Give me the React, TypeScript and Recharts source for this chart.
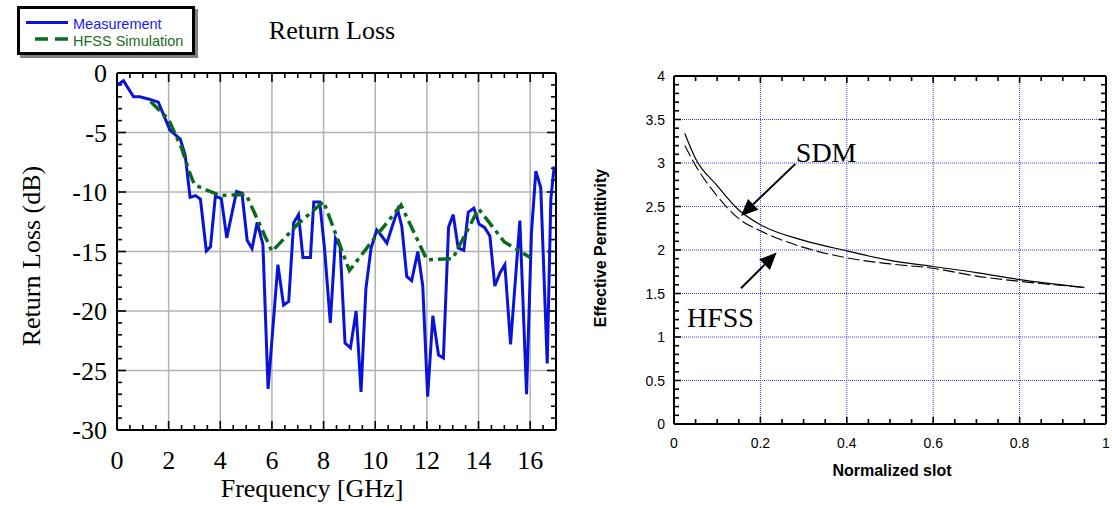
import React from "react";
import {
  LineChart,
  Line,
  XAxis,
  YAxis,
  CartesianGrid,
  ReferenceLine,
  ReferenceDot,
} from "recharts";

const SERIF = '"Liberation Serif", "Times New Roman", serif';
const SANS = '"Liberation Sans", Arial, sans-serif';

// left panel: return loss vs frequency
const measFreq = [
  0.02, 0.25, 0.64, 0.88, 1.25, 1.6, 2.05, 2.45, 2.64, 2.83, 3.04, 3.23, 3.46, 3.62, 3.81, 4.04,
  4.25, 4.63, 4.84, 5.04, 5.23, 5.43, 5.65, 5.85, 6.23, 6.45, 6.65, 6.84, 7.03, 7.2, 7.49, 7.62,
  7.85, 8.04, 8.26, 8.46, 8.64, 8.83, 9.04, 9.26, 9.45, 9.64, 9.84, 10.06, 10.25, 10.45, 10.64,
  10.87, 11.03, 11.22, 11.41, 11.65, 11.84, 12.03, 12.23, 12.45, 12.64, 12.84, 13.02, 13.21,
  13.43, 13.6, 13.82, 14.02, 14.24, 14.44, 14.63, 14.83, 15.02, 15.24, 15.6, 15.86, 16.05,
  16.22, 16.41, 16.66, 16.8, 16.93,
];
const measRL = [
  -1.0, -0.65, -2.0, -2.0, -2.2, -2.45, -4.8, -5.55, -6.9, -10.45, -10.3, -10.6, -14.95, -14.6,
  -10.35, -10.55, -13.85, -9.95, -10.1, -14.05, -14.75, -12.55, -14.4, -26.55, -16.1, -19.5,
  -19.2, -12.6, -11.9, -15.5, -15.5, -10.85, -10.85, -14.85, -21.0, -13.9, -14.6, -22.7, -23.1,
  -20.0, -26.8, -18.1, -14.7, -13.2, -13.7, -14.3, -13.0, -11.5, -12.9, -17.1, -17.45, -15.0,
  -17.9, -27.2, -20.4, -23.7, -23.95, -12.95, -11.9, -14.7, -14.9, -11.7, -11.35, -12.7, -13.0,
  -13.7, -17.9, -16.8, -16.1, -22.8, -12.4, -27.0, -13.4, -8.25, -9.65, -24.4, -10.6, -7.85,
];
const simFreq = [1.3, 2.0, 2.5, 2.8, 3.0, 4.0, 5.0, 6.0, 7.0, 8.0, 9.0, 10.0, 11.0, 12.0, 13.0, 14.0, 15.0, 16.0];
const simRL = [-2.4, -3.9, -6.3, -8.3, -9.4, -10.3, -10.2, -15.0, -12.7, -10.8, -16.6, -13.8, -11.1, -15.7, -15.6, -11.4, -14.2, -15.5];

const freqTicks = [0, 2, 4, 6, 8, 10, 12, 14, 16];
const rlTicks = [-30, -25, -20, -15, -10, -5, 0];

// right panel: effective permittivity vs normalized slot
const slot = [0.025, 0.05, 0.1, 0.15, 0.2, 0.3, 0.4, 0.5, 0.6, 0.7, 0.8, 0.95];
const sdmEps = [3.34, 3.05, 2.74, 2.46, 2.29, 2.11, 1.99, 1.88, 1.81, 1.74, 1.66, 1.57];
const hfssEps = [3.2, 2.97, 2.62, 2.36, 2.22, 2.03, 1.91, 1.84, 1.79, 1.7, 1.64, 1.57];

const slotTicks = [0, 0.2, 0.4, 0.6, 0.8, 1];
const epsTicks = [0, 0.5, 1, 1.5, 2, 2.5, 3, 3.5, 4];

// annotations [x, y] and arrows [x1, y1, x2, y2] in data units
const sdmLabelAt = [0.282, 3.01];
const sdmArrow = [0.281, 2.99, 0.155, 2.39];
const hfssLabelAt = [0.03, 1.115];
const hfssArrow = [0.155, 1.56, 0.2375, 1.97];

const measData = measFreq.map((f, i) => ({ f, rl: measRL[i] }));
const simData = simFreq.map((f, i) => ({ f, rl: simRL[i] }));
const epsData = slot.map((s, i) => ({ s, sdm: sdmEps[i], hfss: hfssEps[i] }));

const steps = (from: number, to: number, step: number) => {
  const n = Math.round((to - from) / step);
  return Array.from({ length: n + 1 }, (_, i) => +(from + i * step).toFixed(4));
};
const onGrid = (step: number) => (v: number) => Math.abs(v / step - Math.round(v / step)) < 1e-6;

type Side = "bottom" | "left" | "none";
interface LabelOpt {
  font: string;
  size: number;
  dx: number;
  dy: number;
}

// axis labels only; the tick marks are drawn by the reference lines below
function tickLabel(side: Side, isMajor: (v: number) => boolean, label?: LabelOpt) {
  return (p: any) => {
    const v = p.payload.value;
    if (!label || !isMajor(v)) return <g />;
    return (
      <text
        x={Number(p.x) + label.dx}
        y={Number(p.y) + label.dy}
        textAnchor={side === "left" ? "end" : "middle"}
        fontFamily={label.font}
        fontSize={label.size}
        fill="#000"
      >
        {String(v)}
      </text>
    );
  };
}

// inward ticks at both ends of a full-height / full-width reference line
const vTick = (len: number) => (p: any) => {
  const x = Number(p.x1);
  const top = Math.min(Number(p.y1), Number(p.y2));
  const bot = Math.max(Number(p.y1), Number(p.y2));
  return (
    <g>
      <line x1={x} y1={top} x2={x} y2={top + len} stroke="#000" strokeWidth={1.6} />
      <line x1={x} y1={bot} x2={x} y2={bot - len} stroke="#000" strokeWidth={1.6} />
    </g>
  );
};
const hTick = (len: number) => (p: any) => {
  const y = Number(p.y1);
  const l = Math.min(Number(p.x1), Number(p.x2));
  const r = Math.max(Number(p.x1), Number(p.x2));
  return (
    <g>
      <line x1={l} y1={y} x2={l + len} y2={y} stroke="#000" strokeWidth={1.6} />
      <line x1={r} y1={y} x2={r - len} y2={y} stroke="#000" strokeWidth={1.6} />
    </g>
  );
};

const arrowShape = (p: any) => {
  const { x1, y1, x2, y2 } = p;
  const ang = Math.atan2(y2 - y1, x2 - x1);
  const L = 17;
  const W = 7.5;
  const bx = x2 - L * Math.cos(ang);
  const by = y2 - L * Math.sin(ang);
  const nx = -Math.sin(ang) * W;
  const ny = Math.cos(ang) * W;
  return (
    <g>
      <line x1={x1} y1={y1} x2={bx} y2={by} stroke="#000" strokeWidth={2} />
      <polygon points={`${x2},${y2} ${bx + nx},${by + ny} ${bx - nx},${by - ny}`} fill="#000" />
    </g>
  );
};

const textShape = (label: string) => (p: any) => (
  <text x={p.cx} y={p.cy} fontFamily={SERIF} fontSize={28} fill="#000">
    {label}
  </text>
);

const frame = { stroke: "#000", strokeWidth: 2 };
const common = { type: "number" as const, allowDataOverflow: true, tickSize: 0, tickMargin: 0, tickLine: false, interval: 0 as const };

function ReturnLossChart() {
  const xAll = steps(0, 17, 0.5).filter((v) => v > 0 && v < 17);
  const yAll = steps(-30, 0, 1).filter((v) => v > -30 && v < 0);
  const xMaj = onGrid(2);
  const yMaj = onGrid(5);
  return (
    <LineChart width={570} height={509} margin={{ top: 72, right: 13, bottom: 78, left: 116 }}>
      <XAxis {...common} xAxisId="g" dataKey="f" domain={[0, 17]} ticks={freqTicks} hide />
      <YAxis {...common} yAxisId="g" domain={[-30, 0]} ticks={rlTicks} hide />
      <CartesianGrid xAxisId="g" yAxisId="g" stroke="#b3b3b3" strokeWidth={1.5} />
      <XAxis
        {...common}
        dataKey="f"
        domain={[0, 17]}
        ticks={freqTicks}
        height={1}
        axisLine={frame}
        tick={tickLabel("bottom", xMaj, { font: SERIF, size: 26, dx: 0, dy: 39 })}
      />
      <XAxis {...common} xAxisId="top" orientation="top" dataKey="f" domain={[0, 17]} ticks={freqTicks} height={1} axisLine={frame}
        tick={tickLabel("none", xMaj)} />
      <YAxis
        {...common}
        domain={[-30, 0]}
        ticks={rlTicks}
        width={1}
        axisLine={frame}
        tick={tickLabel("left", yMaj, { font: SERIF, size: 26, dx: -10, dy: 9 })}
      />
      <YAxis {...common} yAxisId="right" orientation="right" domain={[-30, 0]} ticks={rlTicks} width={1} axisLine={frame}
        tick={tickLabel("none", yMaj)} />
      {xAll.map((v) => (
        <ReferenceLine key={`x${v}`} x={v} shape={vTick(xMaj(v) ? 9 : 5)} />
      ))}
      {yAll.map((v) => (
        <ReferenceLine key={`y${v}`} y={v} shape={hTick(yMaj(v) ? 9 : 5)} />
      ))}
      <Line data={measData} dataKey="rl" type="linear" stroke="#0a14d8" strokeWidth={3} dot={false} isAnimationActive={false} />
      <Line data={simData} dataKey="rl" type="linear" stroke="#0b6a1e" strokeWidth={3.5} strokeDasharray="13 5 4 5" dot={false} isAnimationActive={false} />
    </LineChart>
  );
}

function PermittivityChart() {
  const xAll = steps(0, 1, 0.05).filter((v) => v > 0 && v < 1);
  const yAll = steps(0, 4, 0.1).filter((v) => v > 0 && v < 4);
  const xMaj = onGrid(0.2);
  const yMaj = onGrid(0.5);
  return (
    <LineChart width={542} height={509} data={epsData} margin={{ top: 75, right: 5, bottom: 84, left: 103 }}>
      <XAxis {...common} xAxisId="g" dataKey="s" domain={[0, 1]} ticks={slotTicks} hide />
      <YAxis {...common} yAxisId="g" domain={[0, 4]} ticks={epsTicks} hide />
      <CartesianGrid xAxisId="g" yAxisId="g" stroke="#3a3aff" strokeWidth={1} strokeDasharray="1 1" />
      <XAxis
        {...common}
        dataKey="s"
        domain={[0, 1]}
        ticks={slotTicks}
        height={1}
        axisLine={frame}
        tick={tickLabel("bottom", xMaj, { font: SANS, size: 14, dx: 0, dy: 24 })}
      />
      <XAxis {...common} xAxisId="top" orientation="top" dataKey="s" domain={[0, 1]} ticks={slotTicks} height={1} axisLine={frame}
        tick={tickLabel("none", xMaj)} />
      <YAxis
        {...common}
        domain={[0, 4]}
        ticks={epsTicks}
        width={1}
        axisLine={frame}
        tick={tickLabel("left", yMaj, { font: SANS, size: 14, dx: -9, dy: 5 })}
      />
      <YAxis {...common} yAxisId="right" orientation="right" domain={[0, 4]} ticks={epsTicks} width={1} axisLine={frame}
        tick={tickLabel("none", yMaj)} />
      {xAll.map((v) => (
        <ReferenceLine key={`x${v}`} x={v} shape={vTick(xMaj(v) ? 7 : 5)} />
      ))}
      {yAll.map((v) => (
        <ReferenceLine key={`y${v}`} y={v} shape={hTick(yMaj(v) ? 7 : 5)} />
      ))}
      <Line dataKey="sdm" type="monotone" stroke="#000" strokeWidth={1.2} dot={false} isAnimationActive={false} />
      <Line dataKey="hfss" type="monotone" stroke="#000" strokeWidth={1.1} strokeDasharray="12 4" dot={false} isAnimationActive={false} />
      <ReferenceLine
        segment={[{ x: sdmArrow[0], y: sdmArrow[1] }, { x: sdmArrow[2], y: sdmArrow[3] }]}
        shape={arrowShape}
        ifOverflow="visible"
      />
      <ReferenceLine
        segment={[{ x: hfssArrow[0], y: hfssArrow[1] }, { x: hfssArrow[2], y: hfssArrow[3] }]}
        shape={arrowShape}
        ifOverflow="visible"
      />
      <ReferenceDot x={sdmLabelAt[0]} y={sdmLabelAt[1]} r={0} shape={textShape("SDM")} ifOverflow="visible" />
      <ReferenceDot x={hfssLabelAt[0]} y={hfssLabelAt[1]} r={0} shape={textShape("HFSS")} ifOverflow="visible" />
    </LineChart>
  );
}

export default function App() {
  return (
    <div style={{ position: "absolute", left: 0, top: 0, width: 1112, height: 509, background: "#fff" }}>
      <div style={{ position: "absolute", left: 0, top: 0 }}>
        <ReturnLossChart />
      </div>
      <div style={{ position: "absolute", left: 570, top: 0 }}>
        <PermittivityChart />
      </div>
      <svg width={1112} height={509} style={{ position: "absolute", left: 0, top: 0, pointerEvents: "none" }}>
        {/* legend */}
        <rect x={20} y={9} width={178} height={49} fill="#808080" />
        <rect x={18.5} y={7.5} width={175} height={46} fill="#fff" stroke="#000" strokeWidth={3} />
        <line x1={26} y1={22.5} x2={68} y2={22.5} stroke="#0a14d8" strokeWidth={3} />
        <line x1={35} y1={39} x2={68} y2={39} stroke="#0b6a1e" strokeWidth={3.5} strokeDasharray="13 7" />
        <text x={73} y={29} fontFamily={SANS} fontSize={14.5} fill="#1a1aff">Measurement</text>
        <text x={73} y={46} fontFamily={SANS} fontSize={14.5} fill="#1b6b1b">HFSS Simulation</text>
        {/* titles */}
        <text x={332} y={39} textAnchor="middle" fontFamily={SERIF} fontSize={26}>Return Loss</text>
        <text x={312} y={497} textAnchor="middle" fontFamily={SERIF} fontSize={26}>Frequency [GHz]</text>
        <text transform="translate(40,256) rotate(-90)" textAnchor="middle" fontFamily={SERIF} fontSize={26}>
          Return Loss (dB)
        </text>
        <text x={892} y={476} textAnchor="middle" fontFamily={SANS} fontWeight="bold" fontSize={16}>Normalized slot</text>
        <text transform="translate(606,248) rotate(-90)" textAnchor="middle" fontFamily={SANS} fontWeight="bold" fontSize={16}>
          Effective Permittivity
        </text>
      </svg>
    </div>
  );
}
